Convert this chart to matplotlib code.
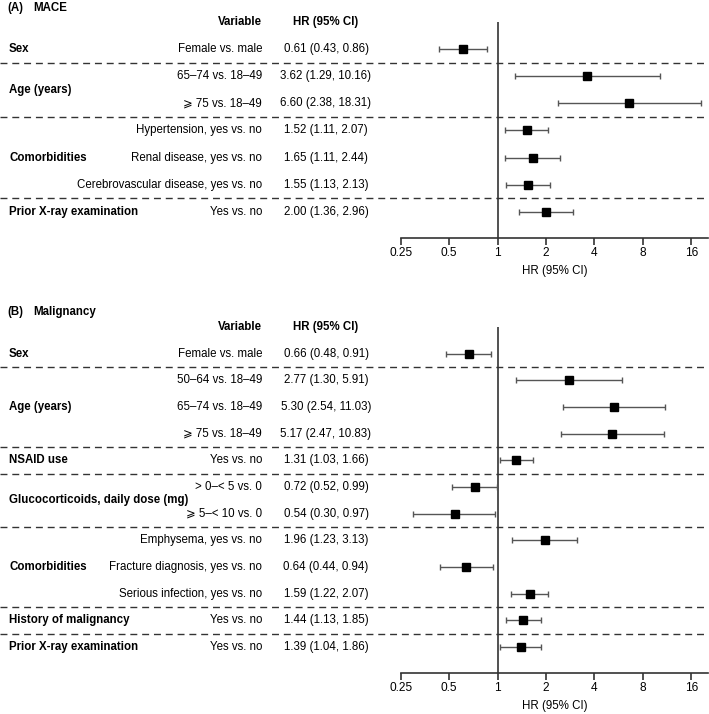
import numpy as np
import matplotlib
matplotlib.use('Agg')
import matplotlib.pyplot as plt
import matplotlib.transforms as mtransforms

plt.rcParams['font.family'] = ['Liberation Sans', 'DejaVu Sans']
FS = 8.3

# ---------------- data ----------------
# (A) MACE
a_groups = ['Sex', 'Age (years)', 'Comorbidities', 'Prior X-ray examination']
a_group_idx = [0, 1, 1, 2, 2, 2, 3]
a_vars = ['Female vs. male', '65–74 vs. 18–49', '⩾ 75 vs. 18–49',
          'Hypertension, yes vs. no', 'Renal disease, yes vs. no',
          'Cerebrovascular disease, yes vs. no', 'Yes vs. no']
a_hr = [0.61, 3.62, 6.60, 1.52, 1.65, 1.55, 2.00]
a_lo = [0.43, 1.29, 2.38, 1.11, 1.11, 1.13, 1.36]
a_hi = [0.86, 10.16, 18.31, 2.07, 2.44, 2.13, 2.96]

# (B) Malignancy
b_groups = ['Sex', 'Age (years)', 'NSAID use', 'Glucocorticoids, daily dose (mg)',
            'Comorbidities', 'History of malignancy', 'Prior X-ray examination']
b_group_idx = [0, 1, 1, 1, 2, 3, 3, 4, 4, 4, 5, 6]
b_vars = ['Female vs. male', '50–64 vs. 18–49', '65–74 vs. 18–49', '⩾ 75 vs. 18–49',
          'Yes vs. no', '> 0–< 5 vs. 0', '⩾ 5–< 10 vs. 0',
          'Emphysema, yes vs. no', 'Fracture diagnosis, yes vs. no',
          'Serious infection, yes vs. no', 'Yes vs. no', 'Yes vs. no']
b_hr = [0.66, 2.77, 5.30, 5.17, 1.31, 0.72, 0.54, 1.96, 0.64, 1.59, 1.44, 1.39]
b_lo = [0.48, 1.30, 2.54, 2.47, 1.03, 0.52, 0.30, 1.23, 0.44, 1.22, 1.13, 1.04]
b_hi = [0.91, 5.91, 11.03, 10.83, 1.66, 0.99, 0.97, 3.13, 0.94, 2.07, 1.85, 1.86]

ticks = [0.25, 0.5, 1, 2, 4, 8, 16]
tick_labels = ['0.25', '0.5', '1', '2', '4', '8', '16']

# ---------------- layout ----------------
W, H = 709, 714
fig = plt.figure(figsize=(W / 100, H / 100), dpi=100)

GRAY = '#333333'


def panel(letter, name, title_y, top_px, bottom_px, groups, gidx, variables, hr, lo, hi):
    left_px, right_px = 400.7, 708
    ax = fig.add_axes([left_px / W, 1 - bottom_px / H,
                       (right_px - left_px) / W, (bottom_px - top_px) / H])
    n = len(variables)
    rows = np.arange(n)
    hr = np.array(hr)
    lo = np.array(lo)
    hi = np.array(hi)

    ax.set_xscale('log', base=2)
    ax.set_xlim(0.25, 0.25 * 2 ** ((right_px - left_px) / 48.43))
    ax.set_ylim(n - 1 + 0.97, -1)
    ax.axvline(1, color=GRAY, lw=1.2, zorder=1)
    ax.errorbar(hr, rows, xerr=[hr - lo, hi - hr], fmt='s', color='black',
                ecolor='#555555', elinewidth=1.0, capsize=2.2, capthick=1.0,
                markersize=5.4, zorder=3)

    ax.set_xticks(ticks)
    ax.set_xticklabels(tick_labels, fontsize=FS + 0.3)
    ax.xaxis.set_minor_locator(matplotlib.ticker.NullLocator())
    ax.set_yticks([])
    for s in ['top', 'left', 'right']:
        ax.spines[s].set_visible(False)
    ax.spines['bottom'].set_linewidth(1.2)
    ax.spines['bottom'].set_color(GRAY)
    ax.tick_params(axis='x', length=5, width=1.2, color=GRAY, pad=1.5)
    ax.set_xlabel('HR (95% CI)', fontsize=FS, labelpad=4)

    tr = mtransforms.blended_transform_factory(fig.transFigure, ax.transData)
    # titles and headers
    fig.text(7 / W, 1 - title_y / H, '(' + letter + ')', fontsize=FS, weight='bold', va='center')
    fig.text(33 / W, 1 - title_y / H, name, fontsize=FS, weight='bold', va='center')
    ax.text(262 / W, -1, 'Variable', transform=tr, fontsize=FS, weight='bold',
            ha='right', va='center')
    ax.text(326 / W, -1, 'HR (95% CI)', transform=tr, fontsize=FS, weight='bold',
            ha='center', va='center')

    gidx = np.array(gidx)
    for g, label in enumerate(groups):
        r = rows[gidx == g]
        ax.text(9 / W, r.mean(), label, transform=tr, fontsize=FS, weight='bold',
                ha='left', va='center')
        if g < len(groups) - 1:
            ax.plot([0, right_px / W], [r.max() + 0.5] * 2, transform=tr, clip_on=False,
                    color=GRAY, lw=1.0, ls=(0, (5, 3.5)))
    for i in rows:
        ax.text(262 / W, i, variables[i], transform=tr, fontsize=FS,
                ha='right', va='center')
        ax.text(326 / W, i, '%.2f (%.2f, %.2f)' % (hr[i], lo[i], hi[i]), transform=tr,
                fontsize=FS, ha='center', va='center')
    return ax


panel('A', 'MACE', 8, 22, 238, a_groups, a_group_idx, a_vars, a_hr, a_lo, a_hi)
panel('B', 'Malignancy', 312, 327, 673, b_groups, b_group_idx, b_vars, b_hr, b_lo, b_hi)

fig.savefig('out.png', dpi=100)
